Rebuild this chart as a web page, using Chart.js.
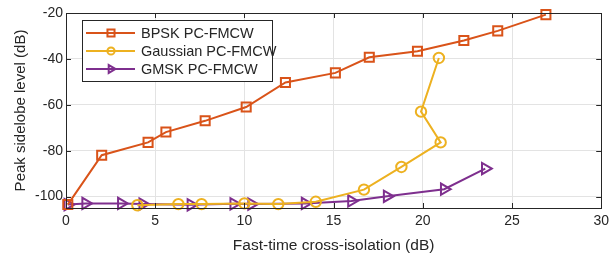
<!DOCTYPE html>
<html>
<head>
<meta charset="utf-8">
<script src="https://cdn.jsdelivr.net/npm/chart.js@4/dist/chart.umd.min.js"></script>
<style>
  html, body { margin: 0; padding: 0; background: #fff; }
  #wrap { width: 614px; height: 256px; }
</style>
</head>
<body>
<div id="wrap"><canvas id="result" width="614" height="256"></canvas></div>
<script>
// values
const seriesNames = ['BPSK PC-FMCW', 'Gaussian PC-FMCW', 'GMSK PC-FMCW'];

const bpskX = [0.1, 2.0, 4.6, 5.6, 7.8, 10.1, 12.3, 15.1, 17.0, 19.7, 22.3, 24.2, 26.9];
const bpskY = [-103.5, -82.0, -76.4, -71.9, -67.0, -61.0, -50.3, -46.1, -39.3, -36.7, -32.0, -27.8, -20.7];

const gaussX = [4.0, 6.3, 7.6, 10.0, 11.9, 14.0, 16.7, 18.8, 21.0, 19.9, 20.9];
const gaussY = [-103.8, -103.3, -103.3, -103.0, -103.3, -102.3, -97.0, -87.1, -76.4, -63.0, -39.6];

const gmskX = [0.1, 1.1, 3.1, 4.3, 7.0, 9.4, 10.4, 13.4, 16.0, 18.0, 21.2, 23.5];
const gmskY = [-103.5, -103.0, -103.0, -103.3, -103.6, -103.2, -103.3, -103.0, -101.9, -99.9, -96.8, -87.8];

const xTicks = [0, 5, 10, 15, 20, 25, 30];
const yTicks = [-100, -80, -60, -40, -20];

const colors = ['#D95319', '#EDB120', '#7E2F8E'];
const styles = ['rect', 'circle', 'triangle'];
const rotations = [0, 0, 90];
const radii = [6.4, 5.2, 6.5];
const legendRadii = [5, 3.6, 4.6];

function pts(xs, ys) {
    return xs.map((x, i) => ({ x: x, y: ys[i] }));
}

const fontFam = '"Liberation Sans", Arial, Helvetica, sans-serif';
const axisColor = '#262626';

const boxPlugin = {
    id: 'boxPlugin',
    afterDatasetsDraw(chart) {
        const a = chart.chartArea;
        const c = chart.ctx;
        c.save();
        c.strokeStyle = axisColor;
        c.lineWidth = 1;
        c.strokeRect(Math.round(a.left) + 0.5, Math.round(a.top) + 0.5,
            Math.round(a.right - a.left), Math.round(a.bottom - a.top));
        // inside tick marks
        const xs = chart.scales.x, ys = chart.scales.y;
        c.beginPath();
        xTicks.forEach(v => {
            const p = Math.round(xs.getPixelForValue(v)) + 0.5;
            c.moveTo(p, a.bottom); c.lineTo(p, a.bottom - 5);
            c.moveTo(p, a.top); c.lineTo(p, a.top + 5);
        });
        yTicks.forEach(v => {
            const p = Math.round(ys.getPixelForValue(v)) + 0.5;
            c.moveTo(a.left, p); c.lineTo(a.left + 5, p);
            c.moveTo(a.right, p); c.lineTo(a.right - 5, p);
        });
        c.stroke();

        // legend box
        const lx = 82, ly = 20, lw = 190, lh = 61;
        c.fillStyle = '#fff';
        c.fillRect(lx, ly, lw, lh);
        c.strokeRect(lx + 0.5, ly + 0.5, lw, lh);
        const rowY = [33, 51, 69];
        c.font = '14.5px ' + fontFam;
        c.textBaseline = 'middle';
        seriesNames.forEach((name, i) => {
            c.strokeStyle = colors[i];
            c.lineWidth = 2;
            c.beginPath();
            c.moveTo(86, rowY[i]); c.lineTo(135, rowY[i]);
            c.stroke();
            c.fillStyle = 'rgba(0,0,0,0)';
            Chart.helpers.drawPoint(c, {
                pointStyle: styles[i], rotation: rotations[i],
                radius: legendRadii[i], borderWidth: 2
            }, 111, rowY[i]);
            c.fillStyle = axisColor;
            c.fillText(name, 141, rowY[i] + 0.5);
        });
        c.restore();
    }
};

const ctx = document.getElementById('result').getContext('2d');

new Chart(ctx, {
    type: 'line',
    data: {
        datasets: [pts(bpskX, bpskY), pts(gaussX, gaussY), pts(gmskX, gmskY)].map((d, i) => ({
            label: seriesNames[i],
            data: d,
            borderColor: colors[i],
            backgroundColor: 'transparent',
            borderWidth: 2,
            pointStyle: styles[i],
            pointRotation: rotations[i],
            pointRadius: radii[i],
            pointBorderWidth: 2,
            pointBorderColor: colors[i],
            pointBackgroundColor: 'transparent',
            tension: 0,
            fill: false,
            clip: false
        }))
    },
    options: {
        responsive: false,
        animation: false,
        devicePixelRatio: 1,
        layout: { padding: { left: 0, right: 7, top: 13, bottom: 0 } },
        plugins: {
            legend: { display: false },
            tooltip: { enabled: false }
        },
        scales: {
            x: {
                type: 'linear',
                min: 0,
                max: 30,
                afterBuildTicks: s => { s.ticks = xTicks.map(v => ({ value: v })); },
                afterFit: s => { s.height = 48; },
                ticks: {
                    color: axisColor,
                    font: { family: fontFam, size: 14 },
                    padding: 5,
                    maxRotation: 0
                },
                grid: { color: '#e3e3e3', drawTicks: false },
                border: { display: false },
                title: {
                    display: true,
                    text: 'Fast-time cross-isolation (dB)',
                    color: axisColor,
                    font: { family: fontFam, size: 15.5 },
                    padding: { top: 3, bottom: 1 }
                }
            },
            y: {
                type: 'linear',
                min: -105,
                max: -20,
                afterBuildTicks: s => { s.ticks = yTicks.map(v => ({ value: v })); },
                afterFit: s => { s.width = 66; },
                ticks: {
                    color: axisColor,
                    font: { family: fontFam, size: 14 },
                    padding: 3
                },
                grid: { color: '#e3e3e3', drawTicks: false },
                border: { display: false },
                title: {
                    display: true,
                    text: 'Peak sidelobe level (dB)',
                    color: axisColor,
                    font: { family: fontFam, size: 15 },
                    padding: { top: 12, bottom: 4 }
                }
            }
        }
    },
    plugins: [boxPlugin]
});
</script>
</body>
</html>
